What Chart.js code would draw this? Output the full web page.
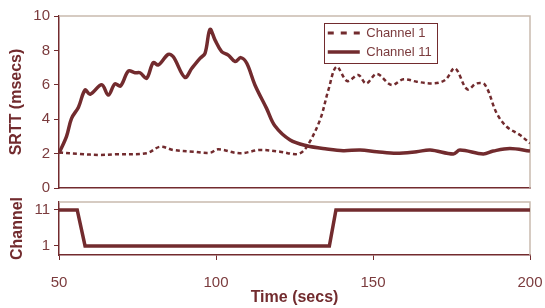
<!DOCTYPE html>
<html>
<head>
  <title>SRTT vs Channel</title>
  <script src="https://cdn.jsdelivr.net/npm/chart.js"></script>
  <style>
    body { margin: 0; background: #fff; }
    #wrap { position: relative; width: 545px; height: 308px; }
    #top { position: absolute; left: 0; top: 0; }
    #bottom { position: absolute; left: 0; top: 195px; }
  </style>
</head>
<body>
  <div id="wrap">
    <canvas id="top" width="545" height="195"></canvas>
    <canvas id="bottom" width="545" height="113"></canvas>
  </div>

  <script>
    // data
    const ch11Time = [50, 52.4, 54.0, 56.2, 58.3, 59.9, 63.6, 65.7, 67.8, 69.6, 72.1, 74.2, 75.8, 77.9, 80.0, 81.6, 84.8, 86.4, 90.1, 92.3, 94.9, 96.5, 98.1, 99.7, 101.8, 103.9, 106.1, 107.9, 109.8, 112.4, 116.1, 118.8, 123.6, 128.9, 135.3, 140.5, 145.9, 151.2, 157.5, 163.9, 168.2, 175.6, 177.7, 185.1, 188.3, 193.6, 200];
    const ch11Srtt = [2.02, 3.0, 4.05, 4.7, 5.7, 5.45, 6.0, 5.4, 6.05, 5.93, 6.8, 6.7, 6.7, 6.38, 7.29, 7.15, 7.77, 7.63, 6.43, 6.96, 7.54, 7.83, 9.22, 8.6, 7.93, 7.73, 7.35, 7.58, 7.25, 5.99, 4.63, 3.6, 2.79, 2.46, 2.27, 2.17, 2.21, 2.11, 2.02, 2.11, 2.21, 1.98, 2.21, 1.98, 2.15, 2.3, 2.15];

    const ch1Time = [50, 56.7, 63.1, 67.8, 77.9, 82.2, 86.4, 92.8, 98.1, 100.7, 107.6, 114.0, 120.4, 126.2, 128.9, 133.1, 135.8, 138.4, 141.8, 145.3, 147.8, 151.2, 155.9, 159.7, 163.9, 169.2, 173.0, 176.1, 180.0, 183.0, 185.7, 189.4, 192.6, 196.8, 200];
    const ch1Srtt = [2.06, 1.98, 1.92, 1.96, 2.02, 2.4, 2.21, 2.11, 2.05, 2.25, 2.02, 2.21, 2.11, 1.98, 2.4, 3.95, 5.7, 7.05, 6.22, 6.57, 6.08, 6.63, 5.99, 6.32, 6.18, 6.08, 6.28, 6.96, 5.74, 6.08, 5.99, 4.34, 3.56, 3.08, 2.6];

    const chanTime = [50, 55.8, 58.3, 136.1, 138.2, 200];
    const chanValue = [11, 11, 1, 1, 11, 11];

    const timeTicks = [50, 100, 150, 200];
    const srttTicks = [0, 2, 4, 6, 8, 10];
    const chanTicks = [1, 11];

    const maroon = '#722b2e';
    const textCol = '#7b3b3d';
    const tan = '#c9bbae';

    Chart.defaults.font.family = '"Liberation Sans", Arial, sans-serif';
    Chart.defaults.color = textCol;

    const pts = (xs, ys) => xs.map((x, i) => ({ x: x, y: ys[i] }));

    // tan top/right frame of the plot area
    const frame = {
      id: 'frame',
      beforeDatasetsDraw(chart) {
        const { ctx, chartArea: a } = chart;
        ctx.save();
        ctx.strokeStyle = tan;
        ctx.lineWidth = 1.5;
        ctx.beginPath();
        ctx.moveTo(a.left, a.top);
        ctx.lineTo(a.right, a.top);
        ctx.lineTo(a.right, a.bottom);
        ctx.stroke();
        ctx.restore();
      }
    };

    // put the legend inside the plot and box it
    const legendBox = {
      id: 'legendBox',
      afterLayout(chart) {
        const lg = chart.legend, a = chart.chartArea;
        lg.left = a.left + 0.56 * a.width - 1;
        lg.top = a.top + 4.5;
        lg.right = lg.left + lg.width;
        lg.bottom = lg.top + 45;
      },
      afterDraw(chart) {
        const hb = chart.legend.legendHitBoxes;
        if (!hb || !hb.length) return;
        const l = Math.min(...hb.map(h => h.left)) - 4;
        const r = Math.max(...hb.map(h => h.left + h.width)) + 5;
        const t = hb[0].top - 4;
        const b = hb[hb.length - 1].top + hb[hb.length - 1].height + 4;
        const ctx = chart.ctx;
        ctx.save();
        ctx.strokeStyle = maroon;
        ctx.lineWidth = 1;
        ctx.strokeRect(Math.round(l) + 0.5, Math.round(t) + 0.5, Math.round(r - l), Math.round(b - t));
        ctx.restore();
      }
    };

    // keep the plot area where the layout padding puts it
    const noEdgePad = s => { s.paddingLeft = 0; s.paddingRight = 0; s.paddingTop = 0; s.paddingBottom = 0; };

    new Chart(document.getElementById('top').getContext('2d'), {
      type: 'line',
      data: {
        datasets: [{
          label: 'Channel 1',
          data: pts(ch1Time, ch1Srtt),
          borderColor: maroon,
          backgroundColor: maroon,
          borderWidth: 2.5,
          borderDash: [4, 3],
          pointRadius: 0,
          tension: 0.35
        }, {
          label: 'Channel 11',
          data: pts(ch11Time, ch11Srtt),
          borderColor: maroon,
          backgroundColor: maroon,
          borderWidth: 3.5,
          pointRadius: 0,
          tension: 0.35
        }]
      },
      options: {
        responsive: false,
        animation: false,
        layout: { padding: { top: 16, right: 15, bottom: 7, left: 0 } },
        plugins: {
          legend: {
            position: 'chartArea',
            align: 'start',
            labels: {
              usePointStyle: true,
              pointStyle: 'line',
              pointStyleWidth: 32,
              boxHeight: 13,
              padding: 6,
              color: textCol,
              font: { size: 13 },
              generateLabels(chart) {
                const items = Chart.defaults.plugins.legend.labels.generateLabels(chart);
                items.forEach((it, i) => {
                  const ds = chart.data.datasets[i];
                  it.lineWidth = ds.borderDash ? 3 : ds.borderWidth;
                  it.lineDash = ds.borderDash ? [6, 7] : [];
                  it.strokeStyle = maroon;
                });
                return items;
              }
            }
          },
          tooltip: { enabled: false }
        },
        scales: {
          x: {
            type: 'linear',
            min: 50,
            max: 200,
            ticks: { display: false },
            grid: { drawOnChartArea: false, drawTicks: false },
            border: { color: maroon, width: 1.5 },
            afterFit(s) { s.height = 0; noEdgePad(s); }
          },
          y: {
            min: 0,
            max: 10,
            afterBuildTicks(s) { s.ticks = srttTicks.map(v => ({ value: v })); },
            ticks: { font: { size: 15 }, color: textCol, padding: 4 },
            grid: { drawOnChartArea: false, tickLength: 5, color: maroon, tickWidth: 1 },
            border: { color: maroon, width: 1.5 },
            title: {
              display: true,
              text: 'SRTT (msecs)',
              color: maroon,
              font: { size: 16, weight: 'bold' },
              padding: { top: 7, bottom: 0 }
            },
            afterFit(s) { s.width = 59; noEdgePad(s); }
          }
        }
      },
      plugins: [frame, legendBox]
    });

    new Chart(document.getElementById('bottom').getContext('2d'), {
      type: 'line',
      data: {
        datasets: [{
          label: 'Channel',
          data: pts(chanTime, chanValue),
          borderColor: maroon,
          borderWidth: 3.5,
          pointRadius: 0,
          tension: 0
        }]
      },
      options: {
        responsive: false,
        animation: false,
        layout: { padding: { top: 7, right: 15, bottom: 0, left: 0 } },
        plugins: { legend: { display: false }, tooltip: { enabled: false } },
        scales: {
          x: {
            type: 'linear',
            min: 50,
            max: 200,
            afterBuildTicks(s) { s.ticks = timeTicks.map(v => ({ value: v })); },
            ticks: { font: { size: 15 }, color: textCol, padding: 14, maxRotation: 0 },
            grid: { drawOnChartArea: false, tickLength: 5, color: maroon },
            border: { color: maroon, width: 1.5 },
            title: {
              display: true,
              text: 'Time (secs)',
              color: maroon,
              font: { size: 16, weight: 'bold' },
              padding: { top: 0, bottom: 1 }
            },
            afterFit(s) { s.height = 53; noEdgePad(s); }
          },
          y: {
            min: -1.5,
            max: 13.2,
            afterBuildTicks(s) { s.ticks = chanTicks.map(v => ({ value: v })); },
            ticks: { font: { size: 15 }, color: textCol, padding: 4 },
            grid: { drawOnChartArea: false, tickLength: 5, color: maroon },
            border: { color: maroon, width: 1.5 },
            title: {
              display: true,
              text: 'Channel',
              color: maroon,
              font: { size: 16, weight: 'bold' },
              padding: { top: 8, bottom: 0 }
            },
            afterFit(s) { s.width = 59; noEdgePad(s); }
          }
        }
      },
      plugins: [frame]
    });
  </script>
</body>
</html>
